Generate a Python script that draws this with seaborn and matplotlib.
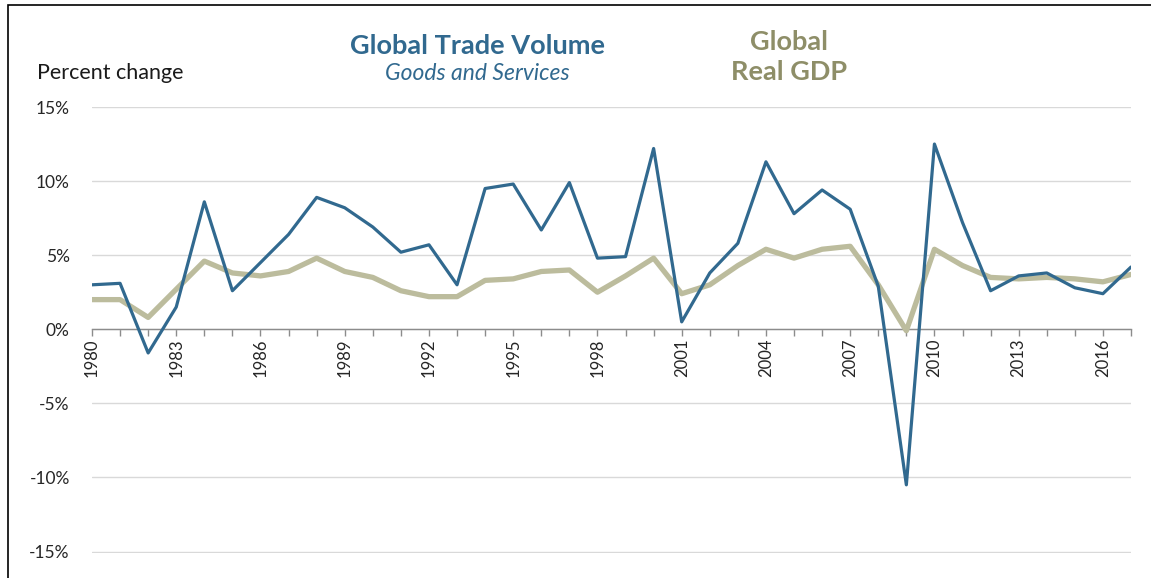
import matplotlib
matplotlib.use("Agg")
import matplotlib.pyplot as plt
import matplotlib.ticker as mticker
from matplotlib.patches import Rectangle
import seaborn as sns
import pandas as pd

years = list(range(1980, 2018))
trade_volume = [3.0, 3.1, -1.6, 1.5, 8.6, 2.6, 4.5, 6.4, 8.9, 8.2,
                6.9, 5.2, 5.7, 3.0, 9.5, 9.8, 6.7, 9.9, 4.8, 4.9,
                12.2, 0.5, 3.8, 5.8, 11.3, 7.8, 9.4, 8.1, 2.9, -10.5,
                12.5, 7.2, 2.6, 3.6, 3.8, 2.8, 2.4, 4.2]
real_gdp = [2.0, 2.0, 0.8, 2.7, 4.6, 3.8, 3.6, 3.9, 4.8, 3.9,
            3.5, 2.6, 2.2, 2.2, 3.3, 3.4, 3.9, 4.0, 2.5, 3.6,
            4.8, 2.4, 3.0, 4.3, 5.4, 4.8, 5.4, 5.6, 3.0, -0.1,
            5.4, 4.3, 3.5, 3.4, 3.5, 3.4, 3.2, 3.7]
y_ticks = [-15, -10, -5, 0, 5, 10, 15]
label_years = list(range(1980, 2018, 3))

BLUE = "#31698f"
TAN_LINE = "#bcbc9d"
TAN_TEXT = "#8e8e68"

sns.set_style("white")
plt.rcParams['font.family'] = ['Lato', 'DejaVu Sans']

df = pd.DataFrame({"year": years, "trade": trade_volume, "gdp": real_gdp})

fig = plt.figure(figsize=(11.51, 5.78), dpi=100)
ax = fig.add_axes([92/1151, 1 - 553/578, (1131 - 92)/1151, (553 - 107)/578])

sns.lineplot(data=df, x="year", y="gdp", ax=ax, color=TAN_LINE, linewidth=3.8, zorder=3)
sns.lineplot(data=df, x="year", y="trade", ax=ax, color=BLUE, linewidth=2.3, zorder=4)

ax.set_xlim(1980, 2017)
ax.set_ylim(-15.1, 15)
ax.set_yticks(y_ticks)
ax.yaxis.set_major_formatter(mticker.FuncFormatter(lambda v, p: f"{int(v)}%"))
ax.grid(axis="y", color="#d9d9d9", linewidth=1)
ax.set_axisbelow(True)

for s in ["top", "right", "left"]:
    ax.spines[s].set_visible(False)
ax.spines["bottom"].set_position(("data", 0))
ax.spines["bottom"].set_color("#8c8c8c")
ax.spines["bottom"].set_linewidth(1)
ax.spines["bottom"].set_zorder(2)

ax.set_xticks(label_years)
ax.set_xticks(years, minor=True)
ax.set_xticklabels([str(y) for y in label_years], rotation=90, fontsize=12)
ax.tick_params(axis="x", which="both", direction="out", length=5, width=1,
               color="#8c8c8c", bottom=True, pad=2)
ax.tick_params(axis="y", length=0, labelsize=12.5, pad=16)
ax.set_xlabel("")
ax.set_ylabel("")

fig.text(37/1151, 1 - 73/578, "Percent change", fontsize=15.5, ha="left", va="center", color="#1a1a1a")
fig.text(477/1151, 1 - 46/578, "Global Trade Volume", fontsize=19.5, fontweight="bold",
         ha="center", va="center", color=BLUE)
fig.text(477/1151, 1 - 73/578, "Goods and Services", fontsize=16.5, style="italic",
         ha="center", va="center", color=BLUE)
fig.text(789/1151, 1 - 42/578, "Global", fontsize=19.5, fontweight="bold",
         ha="center", va="center", color=TAN_TEXT)
fig.text(789/1151, 1 - 72/578, "Real GDP", fontsize=19.5, fontweight="bold",
         ha="center", va="center", color=TAN_TEXT)

fig.patches.append(Rectangle((8/1151, -0.5), 2.0, 1.5 - 5/578, transform=fig.transFigure,
                             fill=False, edgecolor="black", linewidth=1.2))

fig.savefig("out.png", dpi=100)
